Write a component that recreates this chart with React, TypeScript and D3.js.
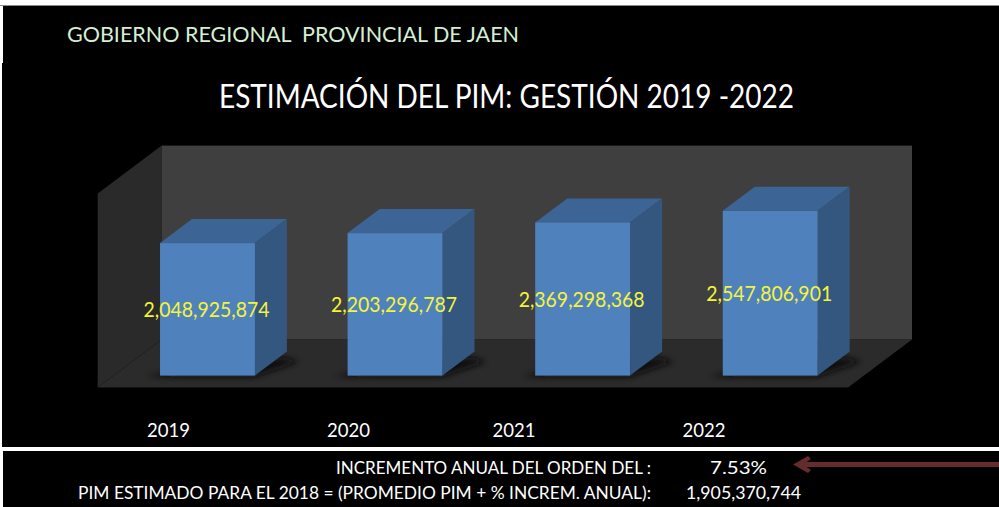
import React from "react";
import * as d3 from "d3";

const years = ["2019", "2020", "2021", "2022"];
const values = [2048925874, 2203296787, 2369298368, 2547806901];
const labelLift = [0, 5, 10, 16];
const yearX = [168.5, 348.5, 514, 704];
const yMax = 3000000000;
const heading = "GOBIERNO REGIONAL  PROVINCIAL DE JAEN";
const title = "ESTIMACIÓN DEL PIM: GESTIÓN 2019 -2022";
const noteRows = [
  { label: "INCREMENTO ANUAL DEL ORDEN DEL :", value: "7.53%", labelW: 315, valueX: 738.5, valueW: 57 },
  { label: "PIM ESTIMADO PARA EL 2018 = (PROMEDIO PIM + % INCREM. ANUAL):", value: "1,905,370,744", labelW: 573, valueX: 743.5, valueW: 115 },
];

const W = 999, H = 507;
const FONT = "Lato, 'Open Sans', sans-serif";
const floorL = 97.7, floorR = 848, floorY = 387.6;
const DX = 64, DY = 48;
const x = d3.scaleBand<string>().domain(years).range([floorL, floorR]).paddingInner(0.494).paddingOuter(0.247);
const y = d3.scaleLinear().domain([0, yMax]).range([floorY, floorY - 194]);
const fmt = d3.format(",");
const poly = (p: [number, number][]) => d3.line()(p) + "Z";

export default function App() {
  const bw = x.bandwidth();
  const top = y(yMax), base = y(0);
  return (
    <svg width={W} height={H} style={{ position: "fixed", left: 0, top: 0, background: "#fff" }} fontFamily={FONT}>
      <defs>
        <filter id="blur" x="-30%" y="-50%" width="160%" height="200%"><feGaussianBlur stdDeviation="3" /></filter>
      </defs>
      <rect x={0} y={5} width={W} height={1} fill="#888" />
      <rect x={3} y={6} width={W - 3} height={57} fill="#000" />
      <rect x={2} y={63} width={W - 2} height={384} fill="#000" />
      <rect x={3} y={451} width={W - 3} height={56} fill="#000" />

      <path d={poly([[floorL, top], [floorL + DX, top - DY], [floorL + DX, base - DY], [floorL, base]])} fill="#2a2a2a" />
      <rect x={floorL + DX} y={top - DY} width={floorR - floorL} height={194} fill="#3f3f3f" />
      <path d={poly([[floorL + DX, base - DY], [floorR + DX, base - DY], [floorR, base], [floorL, base]])} fill="#2b2b2b" />

      {years.map((yr, i) => {
        const x0 = (x(yr) as number) + DX / 4;
        const x1 = x0 + bw;
        const b = base - DY / 4;
        const t = y(values[i]) - DY / 4;
        const dx = DX / 2, dy = DY / 2;
        return (
          <g key={yr}>
            <path d={poly([[x0 - 14, b + 1], [x1, b + 1], [x1 + dx + 12, b - dy + 10], [x1 + dx - 4, b - dy + 6], [x0 + 20, b - 6]])} fill="#111" filter="url(#blur)" />
            <path d={poly([[x0, t], [x0 + dx, t - dy], [x1 + dx, t - dy], [x1, t]])} fill="#3c6494" />
            <path d={poly([[x1, t], [x1 + dx, t - dy], [x1 + dx, b - dy], [x1, b]])} fill="#33577f" />
            <rect x={x0} y={t} width={bw} height={b - t} fill="#4f81bd" />
          </g>
        );
      })}
      {years.map((yr, i) => (
        <text key={yr} x={(x(yr) as number) + DX / 4 + bw / 2 - 1} y={317 - labelLift[i]} textAnchor="middle" fontSize={21} fill="#f4f43c" textLength={126} lengthAdjust="spacingAndGlyphs">
          {fmt(values[i])}
        </text>
      ))}
      {years.map((yr, i) => (
        <text key={yr} x={yearX[i]} y={437} textAnchor="middle" fontSize={19} fill="#fff" textLength={43} lengthAdjust="spacingAndGlyphs">{yr}</text>
      ))}

      <text x={67} y={42} fontSize={21} fill="#d4efd4" xmlSpace="preserve" style={{ whiteSpace: "pre" }} textLength={452} lengthAdjust="spacingAndGlyphs">{heading}</text>
      <text x={506.5} y={108} textAnchor="middle" fontSize={32} fill="#fff" textLength={575} lengthAdjust="spacingAndGlyphs">{title}</text>

      {noteRows.map((r, i) => (
        <g key={r.label} fontSize={18} fill="#fff">
          <text x={651} y={474 + i * 25} textAnchor="end" textLength={r.labelW} lengthAdjust="spacingAndGlyphs">{r.label}</text>
          <text x={r.valueX} y={474 + i * 25} textAnchor="middle" textLength={r.valueW} lengthAdjust="spacingAndGlyphs">{r.value}</text>
        </g>
      ))}
      <line x1={999} y1={464.5} x2={802} y2={464.5} stroke="#652b2d" strokeWidth={5} />
      <path d={poly([[793, 464.5], [808, 456], [811, 459], [803, 464.5], [811, 470], [808, 473]])} fill="#652b2d" />
    </svg>
  );
}
